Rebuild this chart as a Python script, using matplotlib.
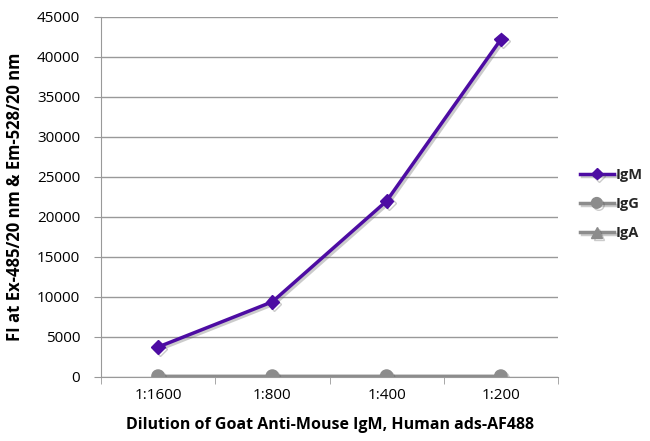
import matplotlib.pyplot as plt
import matplotlib.patheffects as pe
import numpy as np

dilutions = ['1:1600', '1:800', '1:400', '1:200']
igm = [3750, 9400, 22000, 42200]
igg = [100, 100, 100, 100]
iga = [80, 80, 80, 80]

plt.rcParams['font.family'] = ['Open Sans', 'DejaVu Sans']

fig = plt.figure(figsize=(6.5, 4.41), dpi=100)
ax = fig.add_axes([101 / 650, 1 - 377 / 441, 457 / 650, 360 / 441])

x = np.arange(len(dilutions))
shadow = [pe.SimpleLineShadow(offset=(1.5, -1.5), shadow_color='#555555', alpha=0.3),
          pe.Normal()]

ax.plot(x, iga, color='#8c8c8c', lw=2.5, marker='^', ms=9, label='IgA',
        path_effects=shadow, zorder=3)
ax.plot(x, igg, color='#8c8c8c', lw=2.5, marker='o', ms=9, label='IgG',
        path_effects=shadow, zorder=4)
ax.plot(x, igm, color='#4d0ca3', lw=2.5, marker='D', ms=7, label='IgM',
        path_effects=shadow, zorder=5)

ax.set_xlim(-0.5, 3.5)
ax.set_ylim(0, 45000)
ax.set_yticks(np.arange(0, 45001, 5000))
ax.set_xticks(x)
ax.set_xticklabels(dilutions)
ax.set_xticks(np.arange(-0.5, 3.6, 1), minor=True)
ax.tick_params(axis='x', which='major', length=0, pad=8, labelsize=11)
ax.tick_params(axis='x', which='minor', length=5, color='#999999')
ax.tick_params(axis='y', length=5, color='#999999', labelsize=11, pad=10)

ax.yaxis.grid(True, color='#999999', lw=1)
ax.set_axisbelow(True)
for s in ['top', 'right']:
    ax.spines[s].set_visible(False)
ax.spines['left'].set_color('#999999')
ax.spines['bottom'].set_color('#999999')

ax.set_xlabel('Dilution of Goat Anti-Mouse IgM, Human ads-AF488',
              fontsize=11.5, fontweight='bold', labelpad=10)
ax.set_ylabel('FI at Ex-485/20 nm & Em-528/20 nm',
              fontsize=12, fontweight='bold', labelpad=9)

handles, labels = ax.get_legend_handles_labels()
leg = fig.legend(handles[::-1], labels[::-1], loc='center left',
                 bbox_to_anchor=(580 / 650, 1 - 204 / 441), frameon=False,
                 borderaxespad=0, borderpad=0,
                 prop={'weight': 'bold', 'size': 10.5}, handlelength=2.3,
                 handletextpad=0.15, labelspacing=1.05, markerscale=0.85)
for t in leg.get_texts():
    t.set_color('#262626')

fig.savefig('out.png', dpi=100)
